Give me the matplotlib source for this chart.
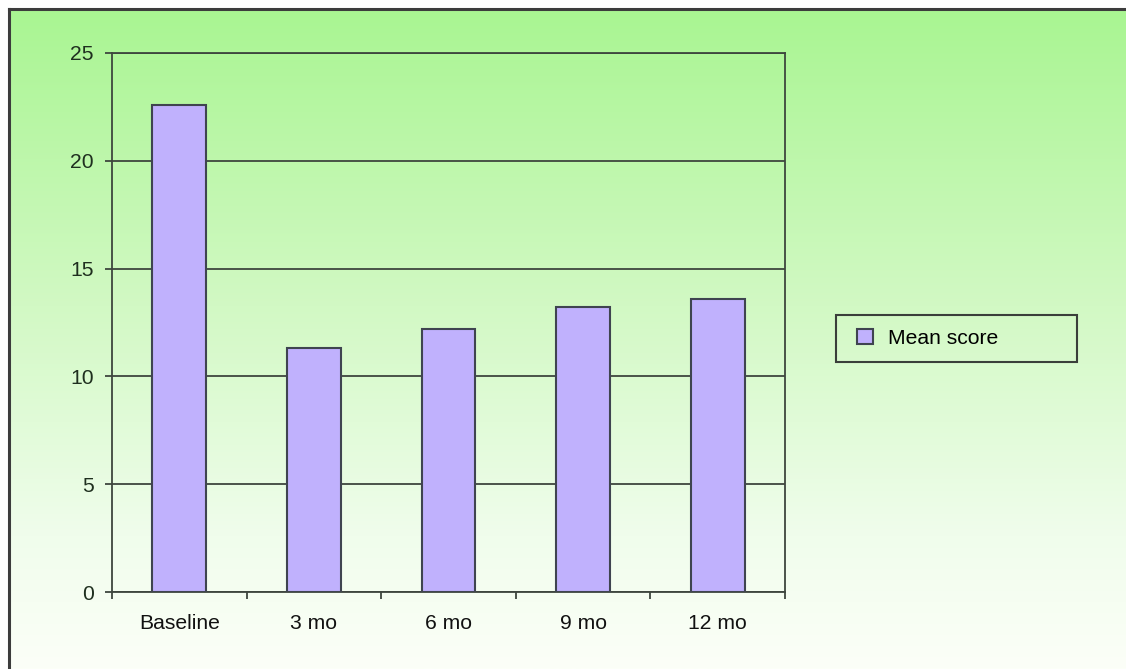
import numpy as np
import matplotlib
matplotlib.use("Agg")
import matplotlib.pyplot as plt
from matplotlib.patches import Rectangle, Patch
from matplotlib.lines import Line2D
from matplotlib.colors import LinearSegmentedColormap

categories = ["Baseline", "3 mo", "6 mo", "9 mo", "12 mo"]
mean_score = [22.6, 11.3, 12.2, 13.2, 13.6]
y_ticks = [0, 5, 10, 15, 20, 25]
series_name = "Mean score"

W, H = 1126, 669
plt.rcParams['font.family'] = ['Liberation Sans', 'DejaVu Sans']
fig = plt.figure(figsize=(W / 100, H / 100), dpi=100)
fig.patch.set_facecolor('white')

# gradient background
bg = fig.add_axes([10 / W, 0, 1 - 10 / W, (H - 10) / H], zorder=0)
cmap = LinearSegmentedColormap.from_list(
    "g", [(0.0, "#a9f592"), (0.45, "#d2f9c4"), (0.8, "#f0fdec"), (1.0, "#fcfff8")])
grad = np.linspace(0, 1, 256).reshape(-1, 1)
bg.imshow(grad, aspect='auto', cmap=cmap, extent=[0, 1, 0, 1], origin='upper')
bg.set_axis_off()

# border lines (top and left)
fig.add_artist(Line2D([9 / W, 1], [1 - 9 / H, 1 - 9 / H], transform=fig.transFigure,
                      color='#3c3c3c', lw=2.2))
fig.add_artist(Line2D([9 / W, 9 / W], [0, 1 - 9 / H], transform=fig.transFigure,
                      color='#3c3c3c', lw=2.2))

left, right, top, bottom = 112, 785, 53, 592
ax = fig.add_axes([left / W, 1 - bottom / H, (right - left) / W, (bottom - top) / H], zorder=1)
ax.set_facecolor('none')

x = np.arange(len(categories))
axis_col = '#3e463e'
bars = ax.bar(x, mean_score, width=0.4, color='#c0b1fd', edgecolor='#3f4450',
              linewidth=1.5, zorder=3, label=series_name)

ax.set_xlim(-0.5, len(categories) - 0.5)
ax.set_ylim(0, 25)
ax.set_yticks(y_ticks)
ax.set_yticklabels([str(t) for t in y_ticks])
ax.yaxis.grid(True, color=axis_col, lw=1.3, zorder=1)
ax.set_axisbelow(True)

ax.set_xticks(np.arange(-0.5, len(categories), 1.0))
ax.set_xticklabels([])
ax.set_xticks(x, minor=True)
ax.set_xticklabels(categories, minor=True)
ax.tick_params(axis='x', which='major', length=5, width=1.3, color=axis_col, direction='out')
ax.tick_params(axis='x', which='minor', length=0, pad=16, labelsize=15.2, labelcolor='#111111')
ax.tick_params(axis='y', length=5, width=1.3, color=axis_col, direction='out', pad=8,
               labelsize=15.2, labelcolor='#1f2f1f')
for s in ax.spines.values():
    s.set_color(axis_col)
    s.set_linewidth(1.3)

# legend frame drawn manually and legend inside
fig.add_artist(Rectangle((836 / W, 1 - 362 / H), (1077 - 836) / W, (362 - 315) / H,
                         transform=fig.transFigure, fill=False, edgecolor='#3a3f3a', lw=1.5))
handle = Patch(facecolor='#c0b1fd', edgecolor='#3f4450', linewidth=1.5)
fig.legend([handle], [series_name], loc='center left',
           bbox_to_anchor=(857 / W, 1 - 338.5 / H), frameon=False, fontsize=15.2,
           handlelength=0.75, handleheight=0.75, handletextpad=0.7, borderpad=0,
           borderaxespad=0)

fig.savefig("out.png", dpi=100)
